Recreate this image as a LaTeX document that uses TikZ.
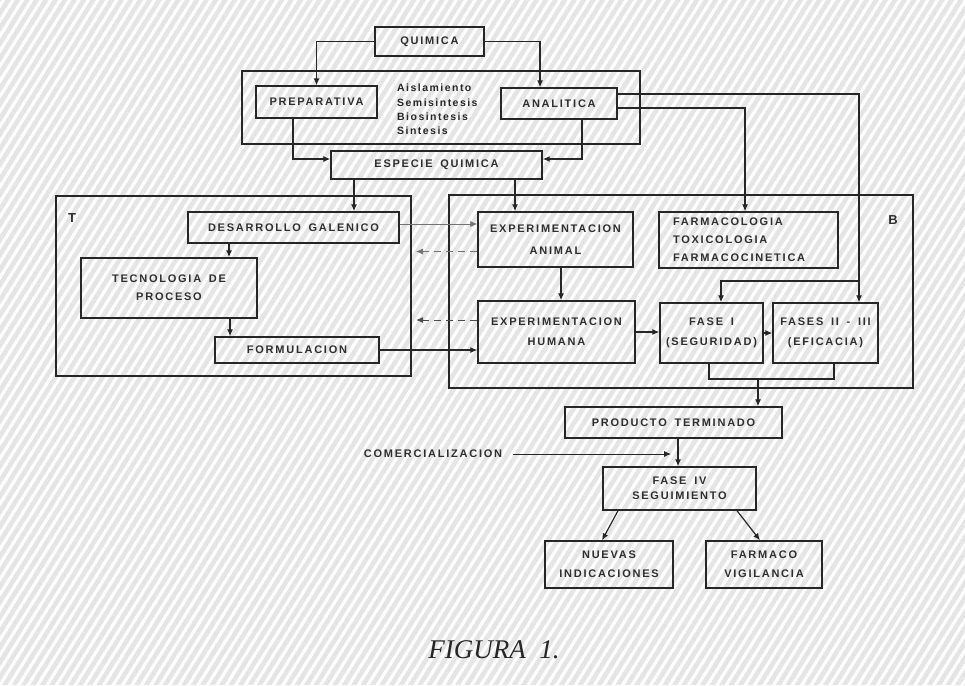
\documentclass[tikz,border=0pt]{standalone}
\usepackage{fontspec}
\setmainfont{Liberation Serif}
\newfontfamily\lett[LetterSpace=16,WordSpace=1.6]{Liberation Sans Bold}
\newfontfamily\listfont[LetterSpace=14]{Liberation Sans Bold}
\usetikzlibrary{arrows.meta,patterns.meta}

\begin{document}
\begin{tikzpicture}[x=1pt,y=-1pt,
  box/.style={draw=black!85,line width=1.4pt,inner sep=0pt,align=center,
    font=\lett\fontsize{11}{20}\selectfont,text=black!82},
  frame/.style={draw=black!85,line width=1.2pt,inner sep=0pt},
  link/.style={draw=black!85,line width=1.2pt},
  arr/.style={link,-{Latex[length=7pt,width=6pt]}},
  faint/.style={draw=black!55,line width=0.8pt,-{Latex[length=7pt,width=6pt]}},
  dashlink/.style={draw=black!70,line width=1pt,dash pattern=on 7pt off 5pt,-{Latex[length=7pt,width=6pt]}},
  lab/.style={font=\lett\fontsize{11}{20}\selectfont,text=black!82,inner sep=0pt}
]
\useasboundingbox (0,0) rectangle (965,685);
% paper with diagonal screen texture
\fill[black!10] (0,0) rectangle (965,685);
\fill[pattern={Lines[angle=58,distance=8pt,line width=3.2pt]},pattern color=white] (0,0) rectangle (965,685);

% group frames
\node[frame,minimum width=398pt,minimum height=73pt] (grp) at (441,107.5) {};
\node[frame,minimum width=355pt,minimum height=180pt] (tbox) at (233.5,286) {};
\node[frame,minimum width=464pt,minimum height=193pt] (bbox) at (681,291.5) {};
\node[lab,font=\lett\fontsize{13}{13}\selectfont] (tlab) at (72,218) {T};
\node[lab,font=\lett\fontsize{13}{13}\selectfont] (blab) at (893,220) {B};

% chemistry
\node[box,minimum width=109pt,minimum height=29pt] (quimica) at (429.5,41.5) {QUIMICA};
\node[box,minimum width=121pt,minimum height=32pt] (prep) at (316.5,102) {PREPARATIVA};
\node[box,minimum width=116pt,minimum height=31pt] (anal) at (559,103.5) {ANALITICA};
\node[anchor=west,align=left,inner sep=0pt,text=black!85,
  font=\listfont\fontsize{10.5}{14.3}\selectfont] (proc) at (397,109.5)
  {Aislamiento\\Semisintesis\\Biosintesis\\Sintesis};
\node[box,minimum width=211pt,minimum height=28pt] (especie) at (436.5,165) {ESPECIE QUIMICA};

% technology
\node[box,minimum width=211pt,minimum height=31pt] (desarrollo) at (293.5,227.5) {DESARROLLO GALENICO};
\node[box,minimum width=176pt,minimum height=60pt,font=\lett\fontsize{11}{18}\selectfont] (tecnologia) at (169,288) {TECNOLOGIA DE\\PROCESO};
\node[box,minimum width=164pt,minimum height=26pt] (formulacion) at (297,350) {FORMULACION};

% biology
\node[box,minimum width=155pt,minimum height=55pt,font=\lett\fontsize{11}{22}\selectfont] (expanimal) at (555.5,239.5) {EXPERIMENTACION\\ANIMAL};
\node[box,minimum width=179pt,minimum height=56pt,align=left,text width=151pt,
  font=\lett\fontsize{11}{18}\selectfont] (farmaco) at (748.5,240) {FARMACOLOGIA\\TOXICOLOGIA\\FARMACOCINETICA};
\node[box,minimum width=157pt,minimum height=62pt] (exphumana) at (556.5,332) {EXPERIMENTACION\\HUMANA};
\node[box,minimum width=103pt,minimum height=60pt] (fase1) at (711.5,333) {FASE I\\(SEGURIDAD)};
\node[box,minimum width=105pt,minimum height=60pt] (fase23) at (825.5,333) {FASES II - III\\(EFICACIA)};

% after approval
\node[box,minimum width=217pt,minimum height=31pt] (producto) at (673.5,422.5) {PRODUCTO TERMINADO};
\node[box,minimum width=153pt,minimum height=43pt,font=\lett\fontsize{11}{15}\selectfont] (fase4) at (679.5,488.5) {FASE IV\\SEGUIMIENTO};
\node[box,minimum width=128pt,minimum height=47pt,font=\lett\fontsize{11}{19}\selectfont] (nuevas) at (609,564.5) {NUEVAS\\INDICACIONES};
\node[box,minimum width=116pt,minimum height=47pt,font=\lett\fontsize{11}{19}\selectfont] (farmacov) at (764,564.5) {FARMACO\\VIGILANCIA};
\node[lab] (comercial) at (433,454) {COMERCIALIZACION};

\node[inner sep=0pt,text=black!85,font=\itshape\fontsize{27}{30}\selectfont] (fig) at (494,650) {FIGURA\ \ 1.};

% connectors: chemistry
\draw[arr] (quimica.west) -| (prep.north);
\coordinate (an) at ([xshift=-19pt]anal.north);
\draw[arr] (quimica.east) -| (an);
\coordinate (p1) at ([xshift=-23.5pt]prep.south);
\coordinate (e1) at ([yshift=6pt]especie.west);
\draw[arr] (p1) |- (e1);
\coordinate (a1) at ([xshift=23pt]anal.south);
\coordinate (e2) at ([yshift=6pt]especie.east);
\draw[arr] (a1) |- (e2);
\coordinate (a2) at ([yshift=9.5pt]anal.east);
\coordinate (f23) at ([xshift=33.5pt]fase23.north);
\draw[arr] (a2) -| (f23);
\coordinate (br) at (859,281);
\coordinate (f1) at ([xshift=9.5pt]fase1.north);
\draw[arr] (br) -| (f1);
\coordinate (a3) at ([yshift=-4.5pt]anal.east);
\coordinate (fm) at ([xshift=-3.5pt]farmaco.north);
\draw[arr] (a3) -| (fm);

% connectors: from the chemical species
\coordinate (e3) at ([xshift=-82.5pt]especie.south);
\draw[arr] (e3) -- (e3 |- desarrollo.north);
\coordinate (e4) at ([xshift=78.5pt]especie.south);
\draw[arr] (e4) -- (e4 |- expanimal.north);

% connectors: technology
\coordinate (d1) at ([xshift=-64.5pt]desarrollo.south);
\draw[arr] (d1) -- (d1 |- tecnologia.north);
\coordinate (t1) at ([xshift=61pt]tecnologia.south);
\draw[arr] (t1) -- (t1 |- formulacion.north);
\coordinate (d2) at ([yshift=3.5pt]desarrollo.east);
\draw[faint] (d2) -- (d2 -| expanimal.west);
\draw[arr] (formulacion.east) -- (formulacion.east -| exphumana.west);

% feedback towards technology
\coordinate (x1) at ([yshift=-12pt]expanimal.west);
\coordinate (tb1) at (416,251.5);
\draw[faint,dash pattern=on 7pt off 5pt] (x1) -- (tb1);
\coordinate (x2) at ([yshift=12pt]exphumana.west);
\coordinate (tb2) at (416,320);
\draw[dashlink] (x2) -- (tb2);

% connectors: biology
\coordinate (x3) at ([xshift=5.5pt]expanimal.south);
\draw[arr] (x3) -- (x3 |- exphumana.north);
\draw[arr] (exphumana.east) -- (exphumana.east -| fase1.west);
\draw[arr] (fase1.east) -- (fase1.east -| fase23.west);
\coordinate (bj) at (758,379);
\coordinate (s1) at ([xshift=-2.5pt]fase1.south);
\coordinate (s2) at ([xshift=8.5pt]fase23.south);
\draw[link] (s1) |- (bj) -| (s2);
\draw[arr] (bj) -- (bj |- producto.north);

% connectors: after approval
\coordinate (p2) at ([xshift=4.5pt]producto.south);
\draw[arr] (p2) -- (p2 |- fase4.north);
\coordinate (cm0) at ([xshift=11pt]comercial.east);
\coordinate (cm) at (671,454);
\draw[arr,line width=0.8pt] (cm0) -- (cm);
\coordinate (g1) at ([xshift=-61.5pt]fase4.south);
\coordinate (g2) at ([xshift=-7pt]nuevas.north);
\draw[arr] (g1) -- (g2);
\coordinate (g3) at ([xshift=57.5pt]fase4.south);
\coordinate (g4) at ([xshift=-4pt]farmacov.north);
\draw[arr] (g3) -- (g4);
\end{tikzpicture}
\end{document}
